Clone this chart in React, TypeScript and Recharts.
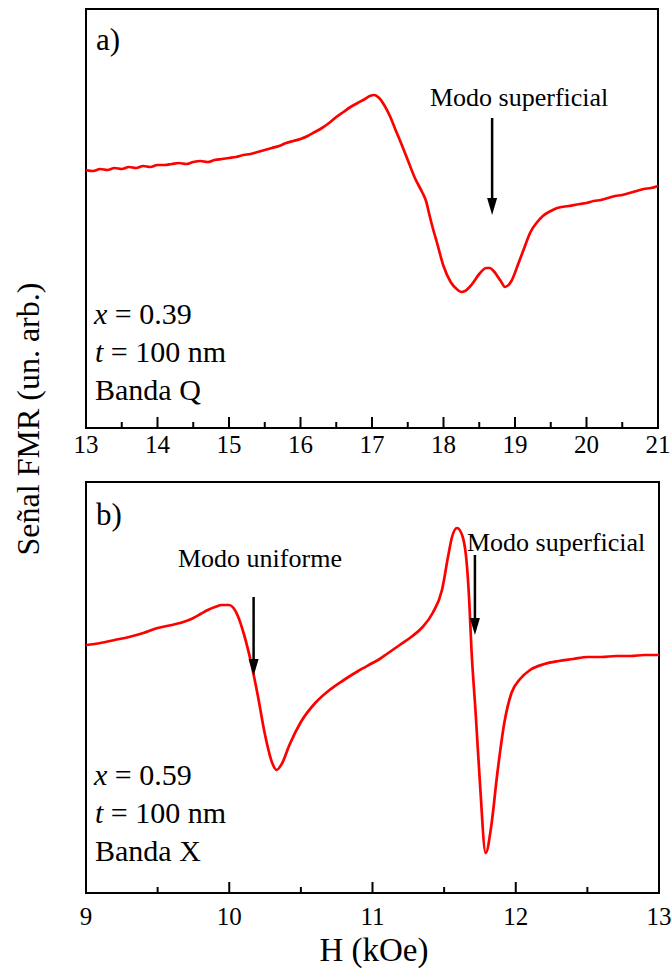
import React from 'react';
import { LineChart, Line, XAxis, YAxis, ReferenceArea, ReferenceLine } from 'recharts';

// Panel a) — Banda Q, H in kOe, signal in arbitrary units
const fieldA = [13.0,13.1,13.2,13.3,13.4,13.5,13.6,13.7,13.8,13.9,14.0,14.1,14.2,14.3,14.4,14.5,14.6,14.7,14.8,14.9,15.0,15.1,15.2,15.3,15.4,15.5,15.6,15.7,15.8,15.9,16.0,16.1,16.2,16.3,16.4,16.5,16.6,16.7,16.8,16.9,16.97,17.03,17.1,17.17,17.25,17.33,17.4,17.5,17.6,17.7,17.76,17.8,17.85,17.91,18.0,18.1,18.2,18.25,18.3,18.4,18.5,18.6,18.65,18.7,18.8,18.86,18.95,19.05,19.15,19.21,19.3,19.39,19.5,19.59,19.75,19.91,20.0,20.1,20.2,20.3,20.4,20.5,20.6,20.7,20.8,20.9,21.0];
const signalA = [258,257,259,258,260,259,261,260,262,261,263,263,264,265,264,266,267,266,268,269,270,271,273,274,276,278,280,282,285,287,289,292,296,300,305,311,316,321,325,329,332,333,330,323,312,298,286,268,250,236,226,214,200,185,162,146,138,136,137,144,154,160,160,157,147,141,147,165,184,195,205,212,217,220,222,224,225,227,228,230,232,233,235,237,239,240,242];

// Panel b) — Banda X
const fieldB = [9.0,9.1,9.2,9.3,9.4,9.5,9.6,9.7,9.75,9.8,9.85,9.9,9.95,10.0,10.03,10.06,10.1,10.15,10.2,10.25,10.3,10.33,10.37,10.42,10.5,10.6,10.7,10.8,10.9,11.0,11.05,11.1,11.19,11.27,11.35,11.42,11.485,11.527,11.555,11.59,11.63,11.66,11.675,11.69,11.72,11.75,11.79,11.83,11.87,11.92,11.97,12.03,12.1,12.2,12.3,12.4,12.5,12.6,12.7,12.8,12.9,13.0];
const signalB = [248,250,253,256,260,265,268,272,275,279,283,286,288,288,285,277,260,232,197,158,130,123,130,148,171,190,203,213,222,230,234,239,248,256,266,280,303,336,356,365,356,326,293,246,180,110,40,68,118,170,200,214,223,229,232,234,236,236,237,237,238,238];

const xTicksA = [13,13.5,14,14.5,15,15.5,16,16.5,17,17.5,18,18.5,19,19.5,20,20.5,21];
const xTicksB = [9,9.5,10,10.5,11,11.5,12,12.5,13];
const yTicksA = [14,31,48,65,82,99,115,132,149,166,183,200,217,234,251,268,284,301,318,335,352,369,386,403];
const yTicksB = [19,39,59,80,100,120,140,160,181,201,221,241,261,282,302,322,342,362,383];

const dataA = fieldA.map((h, i) => ({ h, s: signalA[i] }));
const dataB = fieldB.map((h, i) => ({ h, s: signalB[i] }));

const FONT = '"Liberation Serif", "Times New Roman", serif';

const makeXTick = (labelOffset: number) => (props: any) => {
  const { x, y, payload } = props;
  const v = payload.value;
  const major = Math.abs(v - Math.round(v)) < 1e-6;
  return (
    <g>
      <line x1={x} y1={y} x2={x} y2={y - (major ? 11 : 6)} stroke="#000" strokeWidth={2} />
      {major && (
        <text x={x} y={y + labelOffset} textAnchor="middle" fontFamily={FONT} fontSize={25} fill="#000">
          {String(v)}
        </text>
      )}
    </g>
  );
};

const YTick = (props: any) => {
  const { x, y } = props;
  return <line x1={x} y1={y} x2={x + 3} y2={y} stroke="#000" strokeWidth={1.5} />;
};

const Arrow = (props: any) => {
  const { x1, y1, x2, y2 } = props;
  const head = 17;
  return (
    <g>
      <line x1={x1} y1={y1} x2={x2} y2={y2 - head + 2} stroke="#000" strokeWidth={2.5} />
      <polygon points={`${x2},${y2} ${x2 - 5},${y2 - head} ${x2 + 5},${y2 - head}`} fill="#000" />
    </g>
  );
};

export default function App() {
  return (
    <div style={{ position: 'absolute', left: 0, top: 0, width: 672, height: 970, background: '#fff', overflow: 'hidden' }}>
      <div style={{ position: 'absolute', left: 0, top: 0 }}>
        <LineChart width={672} height={470} data={dataA} margin={{ top: 9, right: 14, bottom: 12, left: 86 }}>
          <XAxis dataKey="h" type="number" domain={[13, 21]} ticks={xTicksA} interval={0} allowDataOverflow
            axisLine={false} tickLine={false} tickSize={0} tickMargin={0} height={30} tick={makeXTick(25)} />
          <YAxis type="number" domain={[0, 419]} ticks={yTicksA} interval={0} allowDataOverflow width={0}
            axisLine={false} tickLine={false} tickSize={0} tickMargin={0} tick={YTick} />
          <ReferenceArea x1={13} x2={21} y1={0} y2={419} fill="none" stroke="#000" strokeWidth={2} ifOverflow="visible" />
          <Line type="monotone" dataKey="s" stroke="#ff0000" strokeWidth={2.7} dot={false} isAnimationActive={false} />
          <ReferenceLine segment={[{ x: 18.68, y: 310 }, { x: 18.68, y: 213 }]} shape={Arrow} ifOverflow="visible" />
        </LineChart>
      </div>
      <div style={{ position: 'absolute', left: 0, top: 470 }}>
        <LineChart width={672} height={500} data={dataB} margin={{ top: 12, right: 13, bottom: 47, left: 86 }}>
          <XAxis dataKey="h" type="number" domain={[9, 13]} ticks={xTicksB} interval={0} allowDataOverflow
            axisLine={false} tickLine={false} tickSize={0} tickMargin={0} height={30} tick={makeXTick(32)} />
          <YAxis type="number" domain={[0, 411]} ticks={yTicksB} interval={0} allowDataOverflow width={0}
            axisLine={false} tickLine={false} tickSize={0} tickMargin={0} tick={YTick} />
          <ReferenceArea x1={9} x2={13} y1={0} y2={411} fill="none" stroke="#000" strokeWidth={2} ifOverflow="visible" />
          <Line type="monotone" dataKey="s" stroke="#ff0000" strokeWidth={2.7} dot={false} isAnimationActive={false} />
          <ReferenceLine segment={[{ x: 10.17, y: 296 }, { x: 10.17, y: 217 }]} shape={Arrow} ifOverflow="visible" />
          <ReferenceLine segment={[{ x: 11.715, y: 338 }, { x: 11.715, y: 258 }]} shape={Arrow} ifOverflow="visible" />
        </LineChart>
      </div>
      <svg width={672} height={970} style={{ position: 'absolute', left: 0, top: 0, pointerEvents: 'none' }}>
        <g fontFamily={FONT} fill="#000" fontSize={30}>
          <text x={96} y={50} fontSize={31}>a)</text>
          <text x={430} y={106} fontSize={26}>Modo superficial</text>
          <text x={94} y={324} xmlSpace="preserve"><tspan fontStyle="italic">x</tspan> = 0.39</text>
          <text x={95} y={362} xmlSpace="preserve"><tspan fontStyle="italic">t</tspan> = 100 nm</text>
          <text x={95} y={400}>Banda Q</text>

          <text x={96} y={525} fontSize={31}>b)</text>
          <text x={178} y={567} fontSize={26}>Modo uniforme</text>
          <text x={467} y={551} fontSize={26}>Modo superficial</text>
          <text x={94} y={785} xmlSpace="preserve"><tspan fontStyle="italic">x</tspan> = 0.59</text>
          <text x={95} y={823} xmlSpace="preserve"><tspan fontStyle="italic">t</tspan> = 100 nm</text>
          <text x={95} y={861}>Banda X</text>

          <text x={374} y={961} textAnchor="middle" fontSize={33}>H (kOe)</text>
          <text x={0} y={0} textAnchor="middle" fontSize={32} transform="translate(39,419) rotate(-90)">Señal FMR (un. arb.)</text>
        </g>
      </svg>
    </div>
  );
}
